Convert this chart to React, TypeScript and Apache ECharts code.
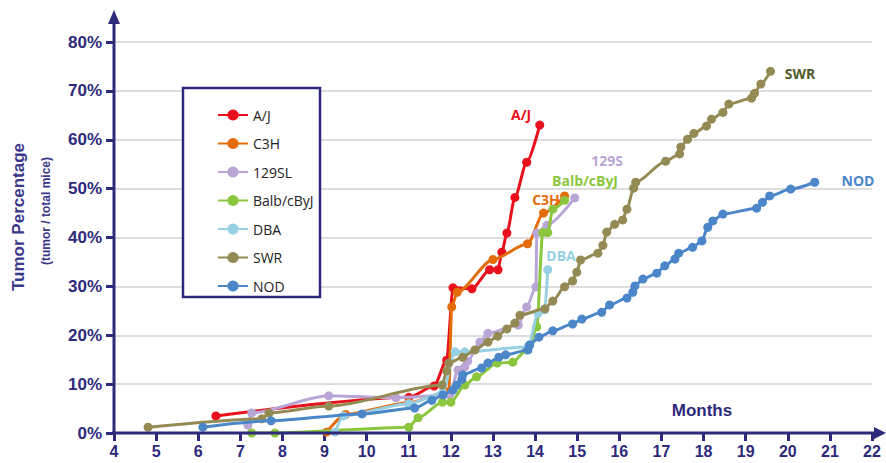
import React, { useEffect, useRef } from "react";
import * as echarts from "echarts";

const NAVY = "#2d2a7c";

const seriesNames = ["A/J", "C3H", "129SL", "Balb/cByJ", "DBA", "SWR", "NOD"];
const seriesColors = ["#e8101c", "#e46c0a", "#b9a6d6", "#8cc63e", "#98d0e3", "#948a54", "#4a86c8"];

const ajX = [6.42, 11.0, 11.6, 11.9, 12.05, 12.5, 12.92, 13.12, 13.21, 13.33, 13.52, 13.8, 14.11];
const ajY = [3.5, 7.3, 9.6, 14.9, 29.7, 29.5, 33.4, 33.4, 37.0, 40.9, 48.2, 55.4, 63.0];

const c3hX = [9.05, 9.5, 11.0, 11.95, 12.02, 12.15, 13.0, 13.82, 14.2, 14.7];
const c3hY = [0.2, 3.8, 6.2, 8.5, 25.8, 28.8, 35.5, 38.7, 45.0, 48.5];

const s129X = [7.18, 7.27, 9.1, 10.7, 11.97, 12.17, 12.33, 12.4, 12.69, 12.88, 13.6, 13.8, 14.02, 14.04, 14.28, 14.94];
const s129Y = [1.6, 4.1, 7.6, 7.2, 7.8, 12.9, 13.5, 14.7, 18.6, 20.4, 22.1, 25.8, 29.9, 40.9, 42.5, 48.1];

const balbX = [7.27, 7.82, 11.0, 11.22, 11.8, 12.0, 12.33, 12.61, 13.1, 13.47, 13.8, 13.87, 14.04, 14.18, 14.3, 14.42, 14.7];
const balbY = [0, 0, 1.2, 3.1, 6.3, 6.3, 9.8, 11.5, 14.3, 14.5, 17.0, 18.0, 21.7, 41.0, 41.0, 45.8, 47.6];

const dbaX = [9.25, 9.45, 11.0, 11.8, 12.1, 12.33, 13.83, 14.07, 14.23, 14.3];
const dbaY = [0.2, 3.5, 6.0, 8.2, 16.6, 16.6, 17.6, 24.5, 25.2, 33.4];

const swrX = [4.81, 7.51, 7.68, 9.1, 11.79, 11.9, 11.95, 12.28, 12.57, 12.88, 13.11, 13.33, 13.52, 13.64, 14.23, 14.42, 14.7, 14.89, 14.99, 15.08, 15.49, 15.61, 15.7, 15.89, 16.08, 16.18, 16.34, 16.39, 17.1, 17.43, 17.46, 17.62, 17.77, 18.07, 18.19, 18.46, 18.6, 19.14, 19.21, 19.36, 19.59];
const swrY = [1.2, 2.9, 4.1, 5.5, 9.8, 12.7, 14.3, 15.5, 17.0, 18.6, 19.8, 21.3, 22.5, 24.1, 25.4, 27.0, 29.9, 31.1, 32.9, 35.4, 36.8, 38.4, 41.1, 42.7, 43.6, 45.8, 50.1, 51.3, 55.6, 57.1, 58.5, 60.1, 61.3, 62.8, 64.2, 65.6, 67.3, 68.5, 69.5, 71.4, 74.0];

const nodX = [6.11, 7.73, 9.89, 11.14, 11.55, 11.81, 12.05, 12.14, 12.26, 12.28, 12.73, 12.88, 13.14, 13.3, 13.83, 13.87, 14.09, 14.42, 14.89, 15.11, 15.58, 15.77, 16.18, 16.32, 16.37, 16.56, 16.89, 17.08, 17.32, 17.41, 17.74, 17.96, 18.1, 18.22, 18.46, 19.26, 19.4, 19.57, 20.07, 20.64];
const nodY = [1.2, 2.5, 3.9, 5.1, 6.7, 7.8, 8.8, 9.8, 11.0, 11.9, 13.3, 14.3, 15.5, 16.0, 17.0, 18.0, 19.6, 20.9, 22.3, 23.3, 24.7, 26.2, 27.6, 28.8, 30.1, 31.5, 32.7, 34.2, 35.6, 36.8, 38.0, 39.3, 42.1, 43.4, 44.8, 46.0, 47.2, 48.5, 49.9, 51.3];

const seriesX = [ajX, c3hX, s129X, balbX, dbaX, swrX, nodX];
const seriesY = [ajY, c3hY, s129Y, balbY, dbaY, swrY, nodY];

const xTicksMin = 4;
const xTicksMax = 22;
const yMin = 0;
const yMax = 80;

const inlineLabels = [
  { text: "A/J", color: "#e8101c", x: 521, y: 114 },
  { text: "C3H", color: "#e46c0a", x: 546, y: 199 },
  { text: "129S", color: "#b9a6d6", x: 607, y: 160 },
  { text: "Balb/cByJ", color: "#8cc63e", x: 585, y: 180 },
  { text: "DBA", color: "#98d0e3", x: 561, y: 255 },
  { text: "SWR", color: "#4f5a28", x: 800, y: 73 },
  { text: "NOD", color: "#4a86c8", x: 858, y: 180 },
];

export default function App() {
  const ref = useRef<HTMLDivElement>(null);
  useEffect(() => {
    document.body.style.margin = "0";
    const chart = echarts.init(ref.current!, null, { renderer: "svg" });
    const series = seriesNames.map((name, i) => ({
      name,
      type: "line",
      data: seriesX[i].map((x, j) => [x, seriesY[i][j]]),
      smooth: 0.25,
      smoothMonotone: "x",
      symbol: "circle",
      symbolSize: 9,
      color: seriesColors[i],
      lineStyle: { width: 3, color: seriesColors[i] },
      itemStyle: { color: seriesColors[i] },
      z: 3 + i,
    }));
    chart.setOption({
      animation: false,
      backgroundColor: "#ffffff",
      grid: { left: 114, top: 42, right: 14, bottom: 30 },
      xAxis: {
        type: "value",
        min: xTicksMin,
        max: xTicksMax,
        interval: 1,
        axisLine: { show: false },
        axisTick: { show: true, length: 8, lineStyle: { color: NAVY, width: 3 } },
        axisLabel: {
          color: NAVY,
          fontFamily: "Liberation Sans",
          fontWeight: "bold",
          fontSize: 16,
          margin: 10,
        },
        splitLine: { show: false },
      },
      yAxis: {
        type: "value",
        min: yMin,
        max: yMax,
        interval: 10,
        axisLine: { show: false },
        axisTick: { show: true, length: 8, lineStyle: { color: NAVY, width: 3 } },
        axisLabel: {
          color: NAVY,
          fontFamily: "Liberation Sans",
          fontWeight: "bold",
          fontSize: 17,
          margin: 12,
          formatter: "{value}%",
        },
        splitLine: { show: true, lineStyle: { color: "#d2d2d2", width: 1.5 } },
      },
      legend: {
        data: seriesNames,
        orient: "vertical",
        left: 212,
        top: 103,
        itemGap: 14.5,
        itemWidth: 30,
        itemHeight: 14,
        textStyle: { fontFamily: "Open Sans", fontSize: 14, color: "#222" },
        z: 10,
      },
      graphic: [
        {
          type: "rect",
          z: 9,
          shape: { x: 183, y: 88, width: 137, height: 209 },
          style: { fill: "#ffffff", stroke: NAVY, lineWidth: 2.5 },
        },
        {
          type: "line",
          z: 20,
          shape: { x1: 114, y1: 435, x2: 114, y2: 20 },
          style: { stroke: NAVY, lineWidth: 3 },
        },
        {
          type: "polygon",
          z: 20,
          shape: { points: [[108, 24], [120, 24], [114, 10]] },
          style: { fill: NAVY },
        },
        {
          type: "line",
          z: 20,
          shape: { x1: 112, y1: 433, x2: 876, y2: 433 },
          style: { stroke: NAVY, lineWidth: 3 },
        },
        {
          type: "polygon",
          z: 20,
          shape: { points: [[874, 427], [874, 439], [886, 433]] },
          style: { fill: NAVY },
        },
        {
          type: "text",
          z: 20,
          x: 18,
          y: 217,
          rotation: Math.PI / 2,
          style: {
            text: "Tumor Percentage",
            align: "center",
            verticalAlign: "middle",
            font: 'bold 17px "Liberation Sans"',
            fill: "#3b3889",
          },
        },
        {
          type: "text",
          z: 20,
          x: 46,
          y: 211,
          rotation: Math.PI / 2,
          style: {
            text: "(tumor / total mice)",
            align: "center",
            verticalAlign: "middle",
            font: 'bold 12px "Liberation Sans"',
            fill: "#3b3889",
          },
        },
        {
          type: "text",
          z: 20,
          x: 702,
          y: 410,
          style: {
            text: "Months",
            align: "center",
            verticalAlign: "middle",
            font: 'bold 17px "Liberation Sans"',
            fill: NAVY,
          },
        },
        ...inlineLabels.map((l) => ({
          type: "text",
          z: 20,
          x: l.x,
          y: l.y,
          style: {
            text: l.text,
            align: "center",
            verticalAlign: "middle",
            font: 'bold 14px "Open Sans"',
            fill: l.color,
          },
        })),
      ],
      series,
    });
    return () => chart.dispose();
  }, []);
  return (
    <div
      ref={ref}
      style={{ position: "absolute", left: 0, top: 0, width: 886, height: 463 }}
    />
  );
}
